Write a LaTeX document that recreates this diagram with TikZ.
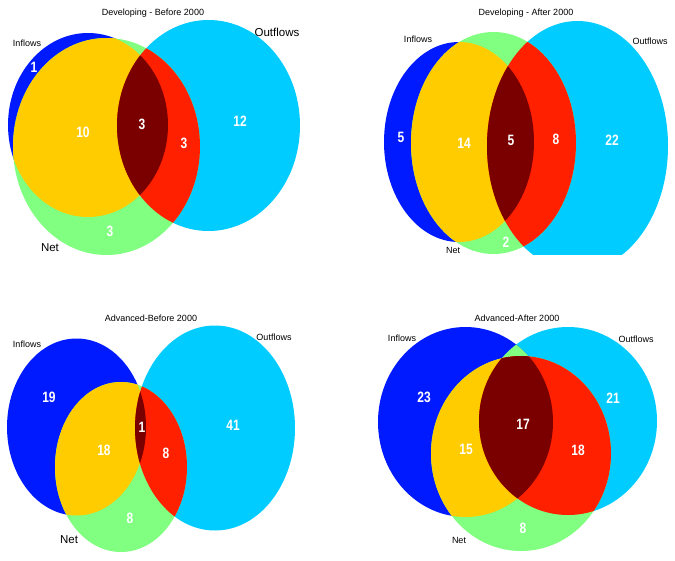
\documentclass[tikz,border=0pt]{standalone}
\usepackage{fontspec}
\setmainfont{Liberation Sans}
\newfontfamily\numfont[FakeStretch=0.8]{Liberation Sans}
\definecolor{cIn}{RGB}{0,26,255}
\definecolor{cOut}{RGB}{0,204,255}
\definecolor{cNet}{RGB}{128,255,128}
\definecolor{cIN}{RGB}{255,204,0}
\definecolor{cON}{RGB}{255,32,0}
\definecolor{cAll}{RGB}{122,0,0}
\newcommand\vennthree[3]{%
  \fill[cOut] #3; \fill[cIn] #1;
  \begin{scope}\clip #1; \fill[cNet] #3;\end{scope}
  \fill[cNet] #2;
  \begin{scope}\clip #1; \fill[cIN] #2;\end{scope}
  \begin{scope}\clip #3; \fill[cON] #2;\end{scope}
  \begin{scope}\clip #1; \clip #3; \fill[cAll] #2;\end{scope}
}
\tikzset{
  lab/.style={font=\fontsize{9}{10}\selectfont, text=black, inner sep=0pt},
  biglab/.style={font=\fontsize{11.5}{13}\selectfont, text=black, inner sep=0pt},
  num/.style={font=\numfont\bfseries\fontsize{15}{17}\selectfont, text=white, inner sep=0pt},
}
\begin{document}
\begin{tikzpicture}[x=1pt,y=-1pt]
\useasboundingbox[fill=white] (0,0) rectangle (675,560);
% ---- Top left
\vennthree{(88,125) ellipse [x radius=80pt, y radius=92pt]}
          {(106.5,146.5) ellipse [x radius=93.5pt, y radius=108.5pt]}
          {(208.5,125.5) ellipse [x radius=91.5pt, y radius=105.5pt]}
\node[lab] (t1) at (153,13) {Developing - Before 2000};
\node[lab] (i1) at (27,43) {Inflows};
\node[biglab] (o1) at (277,32) {Outflows};
\node[biglab] (n1) at (50,248) {Net};
\node[num] (a1) at (34,67) {1};
\node[num] (b1) at (83,132) {10};
\node[num] (c1) at (142,124) {3};
\node[num] (d1) at (184,143) {3};
\node[num] (e1) at (240,121) {12};
\node[num] (f1) at (110,231) {3};
% ---- Top right
\begin{scope}
\clip (300,0) rectangle (675,254);
\vennthree{(459,142) ellipse [x radius=75pt, y radius=100pt]}
          {(493.5,143) ellipse [x radius=82.5pt, y radius=111pt]}
          {(577.5,146) ellipse [x radius=90.5pt, y radius=125pt]}
\end{scope}
\node[lab] (t2) at (526,13) {Developing - After 2000};
\node[lab] (i2) at (418,39) {Inflows};
\node[lab] (o2) at (650,41) {Outflows};
\node[lab] (n2) at (453,250) {Net};
\node[num] (a2) at (401,137) {5};
\node[num] (b2) at (464,143) {14};
\node[num] (c2) at (511,140) {5};
\node[num] (d2) at (556,139) {8};
\node[num] (e2) at (612,140) {22};
\node[num] (f2) at (506,242) {2};
% ---- Bottom left
\vennthree{(76.5,427) ellipse [x radius=69.5pt, y radius=88.5pt]}
          {(121,467) ellipse [x radius=66pt, y radius=85pt]}
          {(215,428) ellipse [x radius=80pt, y radius=102.5pt]}
\node[lab] (t3) at (151,318) {Advanced-Before 2000};
\node[lab] (i3) at (27,344) {Inflows};
\node[lab] (o3) at (274,337) {Outflows};
\node[biglab] (n3) at (69,540) {Net};
\node[num] (a3) at (49,397) {19};
\node[num] (b3) at (104,450) {18};
\node[num] (c3) at (142,427) {1};
\node[num] (d3) at (166,453) {8};
\node[num] (e3) at (233,425) {41};
\node[num] (f3) at (130,518) {8};
% ---- Bottom right
\vennthree{(465.5,422) ellipse [x radius=87.5pt, y radius=95pt]}
          {(521,453.5) ellipse [x radius=90pt, y radius=97.5pt]}
          {(568,421) ellipse [x radius=89pt, y radius=94pt]}
\node[lab] (t4) at (517,318) {Advanced-After 2000};
\node[lab] (i4) at (402,338) {Inflows};
\node[lab] (o4) at (636,339) {Outflows};
\node[lab] (n4) at (459,540) {Net};
\node[num] (a4) at (424,397) {23};
\node[num] (b4) at (466,449) {15};
\node[num] (c4) at (523,424) {17};
\node[num] (d4) at (578,450) {18};
\node[num] (e4) at (613,398) {21};
\node[num] (f4) at (523,528) {8};
\end{tikzpicture}
\end{document}
